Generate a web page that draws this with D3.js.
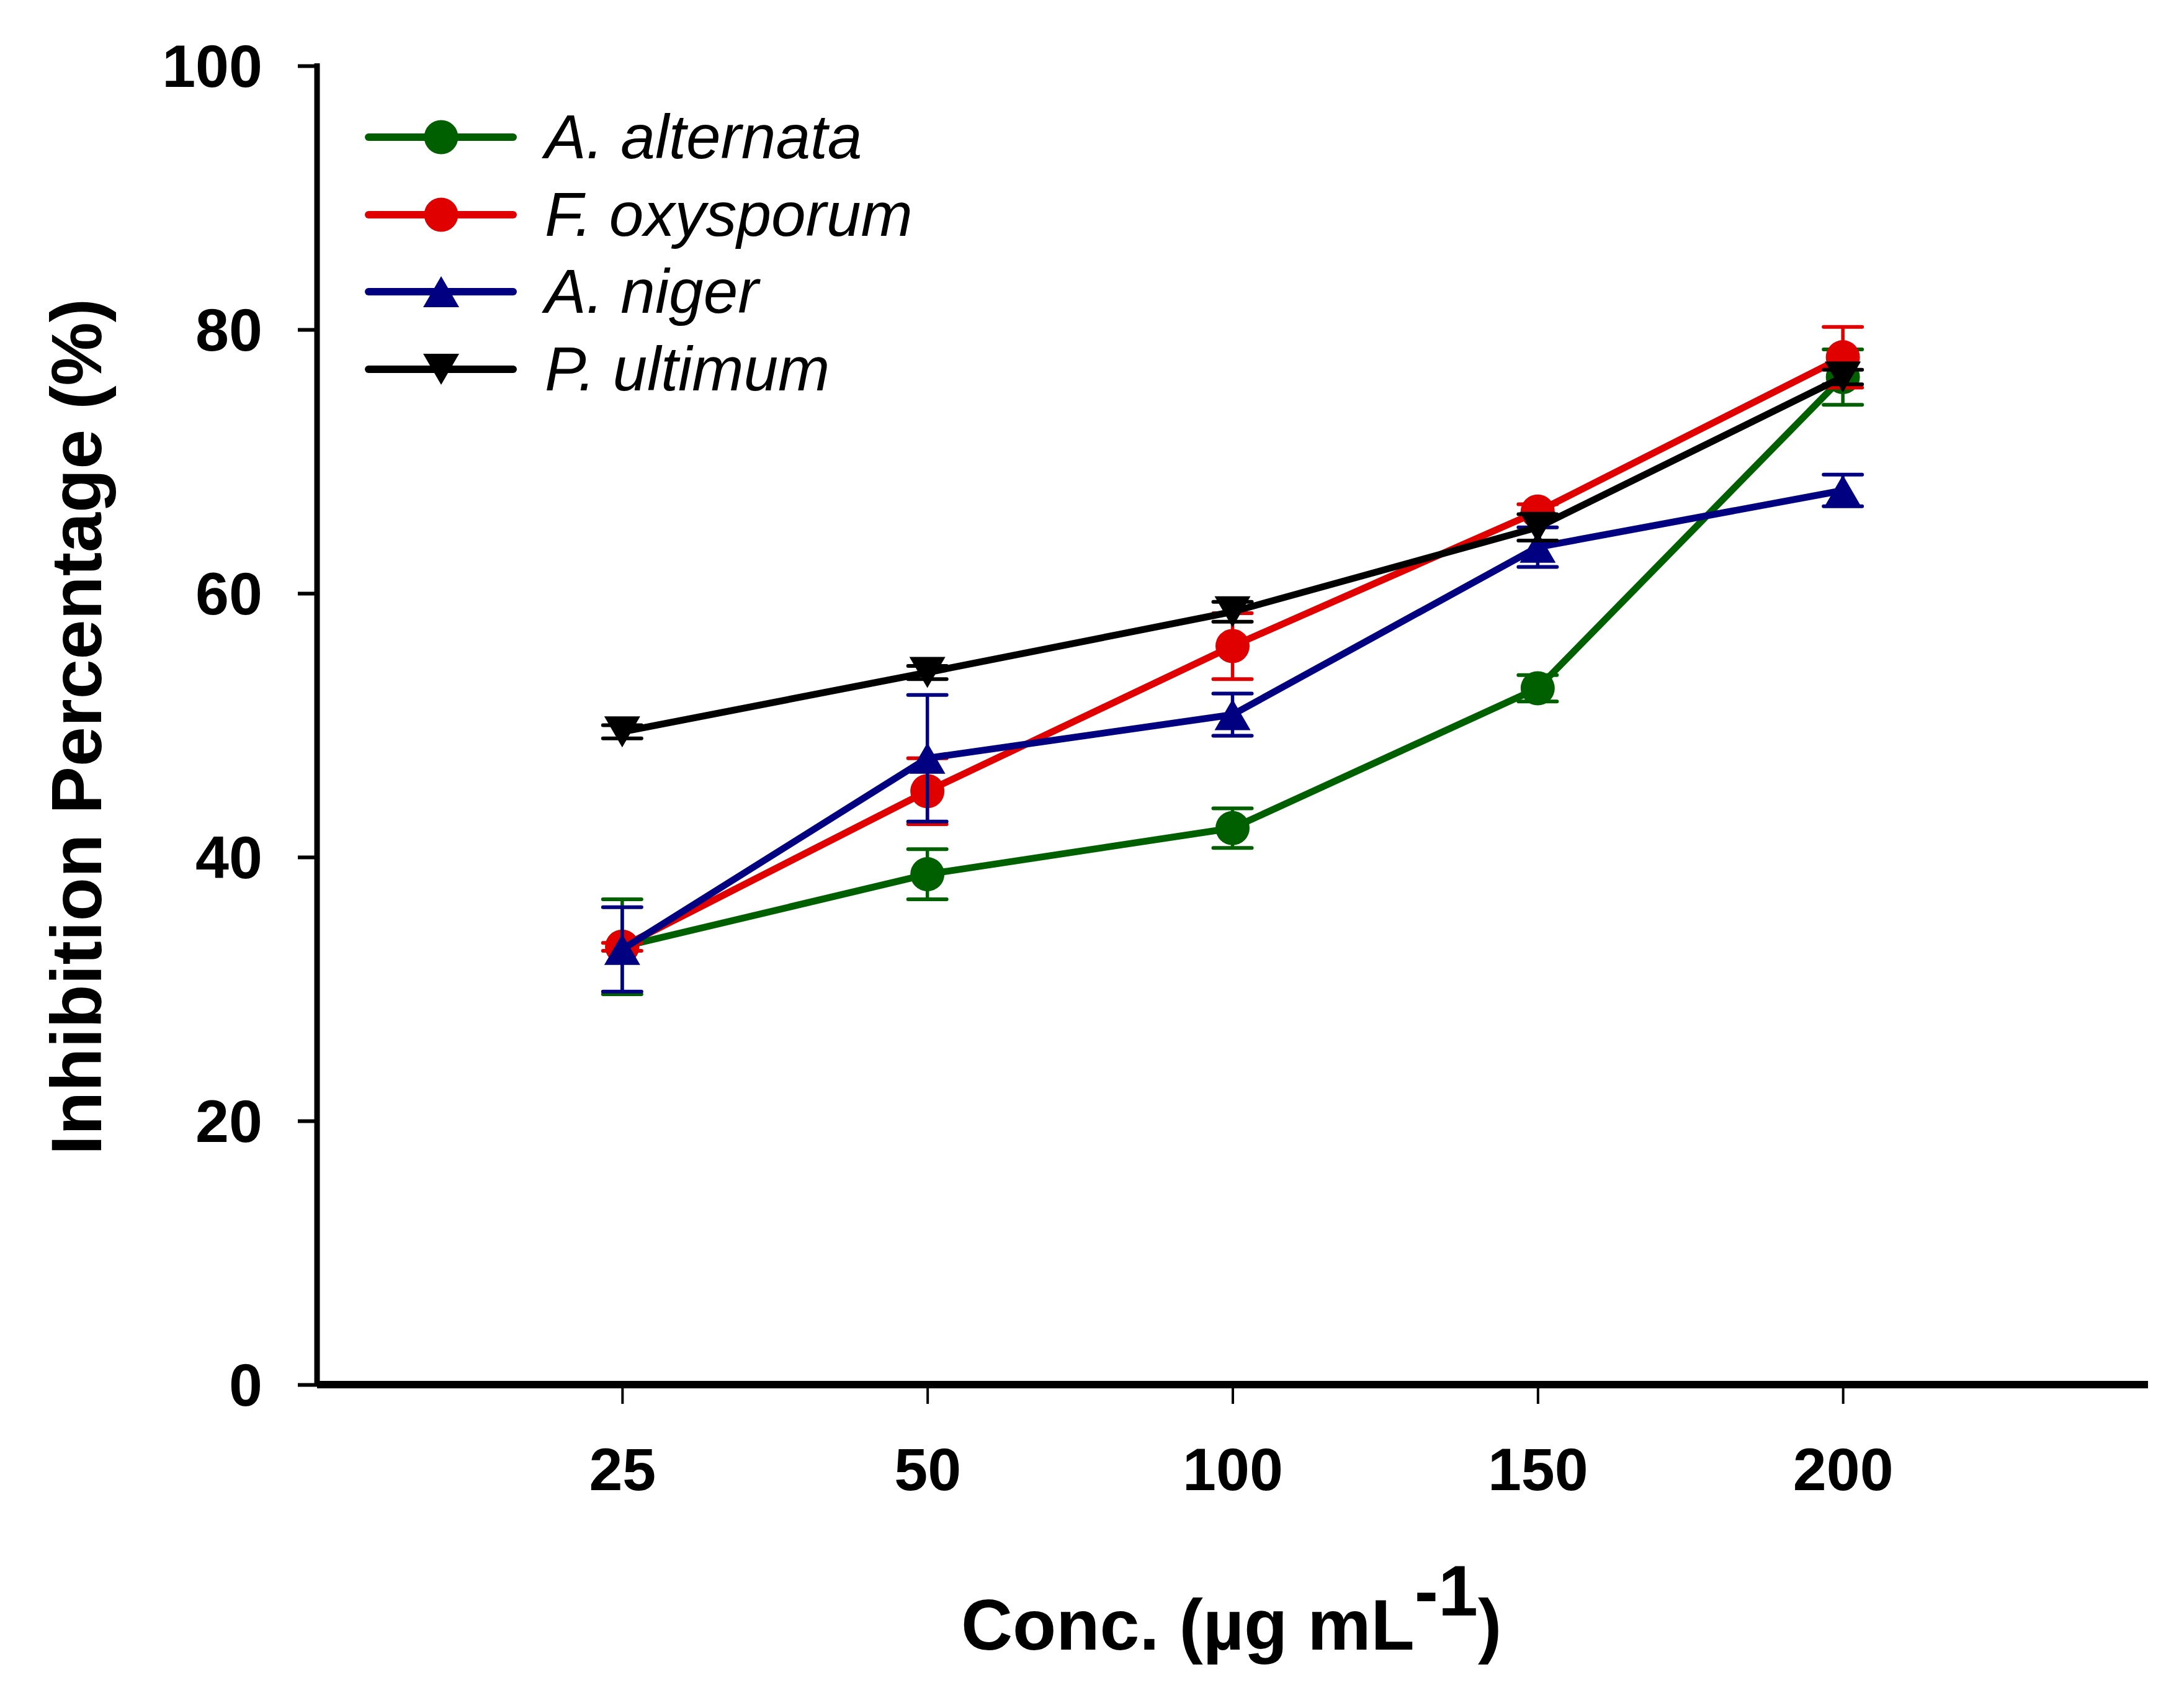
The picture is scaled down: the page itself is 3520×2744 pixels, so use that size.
<!DOCTYPE html>
<html>
<head>
<meta charset="utf-8">
<script src="https://cdn.jsdelivr.net/npm/d3@7"></script>
<style>
  html, body { margin: 0; padding: 0; background: #fff; }
  svg { display: block; }
</style>
</head>
<body>
<script>
// ---- data ----
const categories = ["25", "50", "100", "150", "200"];
const yTicks = [0, 20, 40, 60, 80, 100];

const alternataMean = [33.2, 38.7, 42.2, 52.8, 76.4];
const alternataErr  = [3.6, 1.9, 1.5, 1.0, 2.1];
const oxysporumMean = [33.2, 45.0, 56.0, 66.2, 77.9];
const oxysporumErr  = [0.3, 2.5, 2.5, 0.55, 2.3];
const nigerMean     = [33.0, 47.5, 50.8, 63.5, 67.8];
const nigerErr      = [3.2, 4.8, 1.6, 1.5, 1.2];
const ultimumMean   = [49.5, 54.0, 58.6, 65.0, 76.4];
const ultimumErr    = [0.5, 0.5, 0.75, 1.0, 0.55];

const seriesNames  = ["A. alternata", "F. oxysporum", "A. niger", "P. ultimum"];
const seriesColors = ["#006000", "#e00000", "#000080", "#000000"];
const seriesShapes = ["circle", "circle", "triangleUp", "triangleDown"];
const seriesMeans  = [alternataMean, oxysporumMean, nigerMean, ultimumMean];
const seriesErrs   = [alternataErr, oxysporumErr, nigerErr, ultimumErr];

// ---- layout ----
const W = 3520, H = 2744;
const X0 = 511, X1 = 3462, Y0 = 2231, Y1 = 106;
const FONT = "'Liberation Sans', Arial, Helvetica, sans-serif";

const svg = d3.select("body").append("svg")
  .attr("width", W).attr("height", H)
  .attr("viewBox", `0 0 ${W} ${H}`);

const x = d3.scalePoint().domain(categories).range([X0, X1]).padding(1);
const y = d3.scaleLinear().domain([0, 100]).range([Y0, Y1]);

// marker path generator
function markerPath(shape) {
  const r = 27.5, tw = 29, th = 25;
  if (shape === "circle") {
    const p = d3.path(); p.arc(0, 0, r, 0, 2 * Math.PI); p.closePath(); return p.toString();
  }
  if (shape === "triangleUp") return `M0,${-th}L${tw},${th}L${-tw},${th}Z`;
  return `M0,${th}L${tw},${-th}L${-tw},${-th}Z`;
}

// ---- axes ----
const yAxis = svg.append("g")
  .attr("transform", `translate(${X0},0)`)
  .call(d3.axisLeft(y).tickValues(yTicks).tickSize(31).tickPadding(57).tickFormat(d3.format("d")));
yAxis.select(".domain").attr("d", `M0,${Y1 - 4}V${Y0}`).attr("stroke", "#000").attr("stroke-width", 9);
yAxis.selectAll(".tick line").attr("stroke", "#000").attr("stroke-width", 6);
yAxis.selectAll(".tick text")
  .attr("font-family", FONT).attr("font-weight", "bold").attr("font-size", 97)
  .attr("fill", "#000").attr("dy", "0.35em");

const xAxis = svg.append("g")
  .attr("transform", `translate(0,${Y0})`)
  .call(d3.axisBottom(x).tickSize(31).tickPadding(70));
xAxis.select(".domain").attr("d", `M${X0},0H${X1}`).attr("stroke", "#000").attr("stroke-width", 12);
xAxis.selectAll(".tick line").attr("stroke", "#000").attr("stroke-width", 4);
xAxis.selectAll(".tick text")
  .attr("font-family", FONT).attr("font-weight", "bold").attr("font-size", 97)
  .attr("fill", "#000");

// axis titles
svg.append("text")
  .attr("transform", `translate(163,1171) rotate(-90)`)
  .attr("text-anchor", "middle")
  .attr("font-family", FONT).attr("font-weight", "bold").attr("font-size", 115)
  .attr("fill", "#000")
  .text("Inhibition Percentage (%)");

const xt = svg.append("text")
  .attr("x", 1549).attr("y", 2658)
  .attr("font-family", FONT).attr("font-weight", "bold").attr("font-size", 115)
  .attr("fill", "#000");
xt.append("tspan").text("Conc. (µg mL");
xt.append("tspan").attr("dy", -55).text("-1");
xt.append("tspan").attr("dy", 55).text(")");

// ---- series ----
const line = d3.line().x((d, i) => x(categories[i])).y(d => y(d));

seriesMeans.forEach((means, s) => {
  const col = seriesColors[s];
  const errs = seriesErrs[s];
  const g = svg.append("g");
  // error bars
  const eb = g.selectAll(".eb").data(means).enter().append("g");
  eb.append("line")
    .attr("x1", (d, i) => x(categories[i])).attr("x2", (d, i) => x(categories[i]))
    .attr("y1", (d, i) => y(d + errs[i])).attr("y2", (d, i) => y(d - errs[i]))
    .attr("stroke", col).attr("stroke-width", 5.5);
  [1, -1].forEach(sign => {
    eb.append("line")
      .attr("x1", (d, i) => x(categories[i]) - 31).attr("x2", (d, i) => x(categories[i]) + 31)
      .attr("y1", (d, i) => y(d + sign * errs[i])).attr("y2", (d, i) => y(d + sign * errs[i]))
      .attr("stroke", col).attr("stroke-width", 6).attr("stroke-linecap", "round");
  });
  // line
  g.append("path").datum(means).attr("d", line)
    .attr("fill", "none").attr("stroke", col).attr("stroke-width", 11)
    .attr("stroke-linejoin", "round");
  // markers
  g.selectAll(".mk").data(means).enter().append("path")
    .attr("d", markerPath(seriesShapes[s]))
    .attr("transform", (d, i) => `translate(${x(categories[i])},${y(d)})`)
    .attr("fill", col);
});

// ---- legend ----
const legendRowsY = [221, 346, 470, 595];
const leg = svg.append("g");
seriesNames.forEach((name, s) => {
  const cy = legendRowsY[s];
  leg.append("line").attr("x1", 594).attr("x2", 827).attr("y1", cy).attr("y2", cy)
    .attr("stroke", seriesColors[s]).attr("stroke-width", 12).attr("stroke-linecap", "round");
  leg.append("path").attr("d", markerPath(seriesShapes[s]))
    .attr("transform", `translate(711,${cy})`).attr("fill", seriesColors[s]);
  leg.append("text").attr("x", 878).attr("y", cy + 34)
    .attr("font-family", FONT).attr("font-style", "italic").attr("font-size", 100)
    .attr("fill", "#000").text(name);
});
</script>
</body>
</html>
